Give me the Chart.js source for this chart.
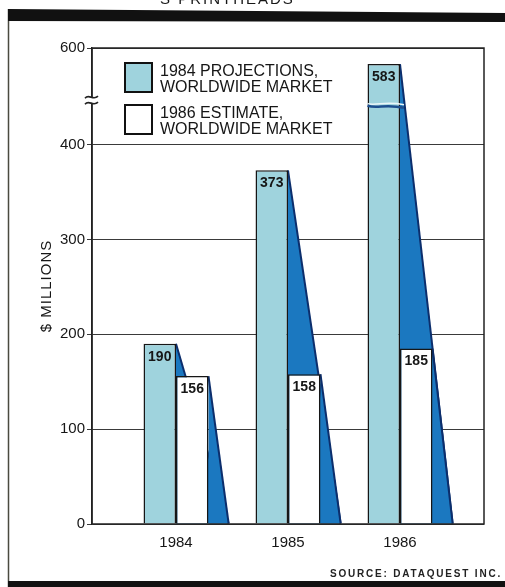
<!DOCTYPE html>
<html>
<head>
<meta charset="utf-8">
<script src="https://cdn.jsdelivr.net/npm/chart.js@4.4.1/dist/chart.umd.min.js"></script>
<style>
  html, body { margin: 0; padding: 0; background: #ffffff; }
  canvas { display: block; }
</style>
</head>
<body>
<canvas id="c" width="505" height="587"></canvas>
<script>
// ---------- data ----------
const years = [1984, 1985, 1986];
const projections1984 = [190, 373, 583];
const estimate1986 = [156, 158, 185];
const yTickValues = [0, 100, 200, 300, 400, 600];
const legendLines1984 = ['1984 PROJECTIONS,', 'WORLDWIDE MARKET'];
const legendLines1986 = ['1986 ESTIMATE,', 'WORLDWIDE MARKET'];
const yTitle = '$ MILLIONS';
const sourceText = 'SOURCE: DATAQUEST INC.';
const headerText = 'S PRINTHEADS';

// broken value axis: the range 440..538 is cut out
const BREAK_AT = 440;
const BREAK_GAP = 98;
const toDisplay = v => (v <= BREAK_AT ? v : v - BREAK_GAP);
const fromDisplay = d => (d <= BREAK_AT ? d : d + BREAK_GAP);

const BLUE = '#9fd3dd';
const SHADOW = '#1b78c0';
const SHADOW_EDGE = '#0c2e6c';
const INK = '#161616';
const FONT = "'Liberation Sans', Arial, sans-serif";
Chart.defaults.font.family = FONT;

const decor = {
  id: 'decor',
  beforeDatasetsDraw(chart) {
    const ctx = chart.ctx;
    const xs = chart.scales.x;
    const m0 = chart.getDatasetMeta(0).data;
    const m1 = chart.getDatasetMeta(1).data;
    ctx.save();
    years.forEach((yr, i) => {
      const vx = xs.getPixelForValue(yr + 0.47);
      [m0[i], m1[i]].forEach(b => {
        const xr = b.x + b.width / 2;
        ctx.beginPath();
        ctx.moveTo(xr, b.y);
        ctx.lineTo(vx, b.base);
        ctx.lineTo(xr, b.base);
        ctx.closePath();
        ctx.fillStyle = SHADOW;
        ctx.fill();
        ctx.beginPath();
        ctx.moveTo(xr, b.y);
        ctx.lineTo(vx, b.base);
        ctx.strokeStyle = SHADOW_EDGE;
        ctx.lineWidth = 2;
        ctx.stroke();
      });
    });
    ctx.restore();
  },
  afterDatasetsDraw(chart) {
    const ctx = chart.ctx;
    const ys = chart.scales.y;
    const area = chart.chartArea;
    const m0 = chart.getDatasetMeta(0).data;
    const m1 = chart.getDatasetMeta(1).data;
    ctx.save();

    // wave across bars that pass the break
    projections1984.forEach((v, i) => {
      if (v > BREAK_AT) {
        const b = m0[i];
        const l = b.x - b.width / 2, r = b.x + b.width / 2 + 4;
        const y0 = ys.getPixelForValue(BREAK_AT);
        ctx.beginPath();
        ctx.moveTo(l, y0 - 3);
        ctx.bezierCurveTo(l + 10, y0 - 1, l + 18, y0 - 6, r, y0 - 2);
        ctx.strokeStyle = '#e9f6f8';
        ctx.lineWidth = 1.5;
        ctx.stroke();
        ctx.beginPath();
        ctx.moveTo(l, y0 - 1);
        ctx.bezierCurveTo(l + 10, y0 + 2, l + 18, y0 - 3, r, y0 + 1);
        ctx.strokeStyle = '#1d4f8f';
        ctx.lineWidth = 2.5;
        ctx.stroke();
      }
    });

    // value labels
    ctx.font = 'bold 14px ' + FONT;
    ctx.fillStyle = INK;
    ctx.textAlign = 'center';
    ctx.textBaseline = 'middle';
    projections1984.forEach((v, i) => ctx.fillText(String(v), m0[i].x, m0[i].y + 13));
    estimate1986.forEach((v, i) => ctx.fillText(String(v), m1[i].x, m1[i].y + 13));

    // frame
    ctx.strokeStyle = '#222';
    ctx.lineWidth = 1.5;
    ctx.strokeRect(area.left, area.top, area.right - area.left, area.bottom - area.top);

    // axis break symbol
    const yb = ys.getPixelForValue(447);
    ctx.fillStyle = '#fff';
    ctx.fillRect(area.left - 2, yb - 3, 4, 6);
    ctx.strokeStyle = '#222';
    ctx.lineWidth = 1.6;
    [yb - 3, yb + 3].forEach(yy => {
      ctx.beginPath();
      ctx.moveTo(area.left - 7, yy + 1);
      ctx.bezierCurveTo(area.left - 3, yy - 4, area.left + 1, yy + 4, area.left + 6, yy - 1);
      ctx.stroke();
    });

    // legend
    const lx = area.left + 33;
    const entries = [
      { top: 63, fill: BLUE, lines: legendLines1984 },
      { top: 105, fill: '#ffffff', lines: legendLines1986 }
    ];
    ctx.textAlign = 'left';
    ctx.textBaseline = 'alphabetic';
    ctx.font = '16px ' + FONT;
    entries.forEach((e, k) => {
      ctx.fillStyle = e.fill;
      ctx.fillRect(lx, e.top, 27, 29);
      ctx.strokeStyle = '#111';
      ctx.lineWidth = 2;
      ctx.strokeRect(lx, e.top, 27, 29);
      ctx.fillStyle = INK;
      ctx.fillText(e.lines[0], lx + 35, e.top + 13);
      ctx.fillText(e.lines[1], lx + 35, e.top + 29);
    });

    // y title
    ctx.save();
    ctx.translate(47, (area.top + area.bottom) / 2 + 0);
    ctx.translate(0, 0);
    ctx.rotate(-Math.PI / 2);
    ctx.font = '15px ' + FONT;
    ctx.letterSpacing = '1px';
    ctx.textAlign = 'center';
    ctx.textBaseline = 'middle';
    ctx.fillStyle = INK;
    ctx.fillText(yTitle, 0, 0);
    ctx.restore();

    ctx.restore();
  },
  afterDraw(chart) {
    const ctx = chart.ctx;
    const W = chart.width, H = chart.height;
    ctx.save();
    // left rule
    ctx.strokeStyle = '#4a4a40';
    ctx.lineWidth = 1.5;
    ctx.beginPath();
    ctx.moveTo(8.5, 9);
    ctx.lineTo(8.5, H);
    ctx.stroke();
    // top band
    ctx.fillStyle = '#111';
    ctx.beginPath();
    ctx.moveTo(8, 9);
    ctx.lineTo(W, 13);
    ctx.lineTo(W, 22);
    ctx.lineTo(8, 21);
    ctx.closePath();
    ctx.fill();
    // bottom band
    ctx.fillRect(8, 581, W - 8, H - 581);
    // cut-off header text
    ctx.font = '15px ' + FONT;
    ctx.letterSpacing = '2px';
    ctx.textAlign = 'left';
    ctx.textBaseline = 'alphabetic';
    ctx.fillStyle = INK;
    ctx.fillText(headerText, 160, 4);
    // source
    ctx.font = 'bold 10px ' + FONT;
    ctx.letterSpacing = '1.8px';
    ctx.textAlign = 'right';
    ctx.textBaseline = 'middle';
    ctx.fillStyle = '#222';
    ctx.fillText(sourceText, 502, 574.5);
    ctx.restore();
  }
};

new Chart(document.getElementById('c'), {
  type: 'bar',
  data: {
    datasets: [
      {
        label: legendLines1984.join(' '),
        data: years.map((yr, i) => ({ x: yr, y: toDisplay(projections1984[i]) })),
        backgroundColor: BLUE,
        borderColor: INK,
        borderWidth: { top: 1.5, left: 1.5, right: 1.5, bottom: 0 },
        borderSkipped: false,
        categoryPercentage: 0.58,
        barPercentage: 1.0
      },
      {
        label: legendLines1986.join(' '),
        data: years.map((yr, i) => ({ x: yr, y: toDisplay(estimate1986[i]) })),
        backgroundColor: '#ffffff',
        borderColor: INK,
        borderWidth: { top: 1.5, left: 1.5, right: 1.5, bottom: 0 },
        borderSkipped: false,
        categoryPercentage: 0.58,
        barPercentage: 1.0
      }
    ]
  },
  options: {
    responsive: false,
    animation: false,
    devicePixelRatio: 1,
    layout: { padding: { top: 48, right: 21, bottom: 0, left: 0 } },
    plugins: { legend: { display: false }, tooltip: { enabled: false } },
    scales: {
      x: {
        type: 'linear',
        min: 1983.25,
        max: 1986.75,
        offset: false,
        grid: { display: false, drawTicks: false },
        border: { display: false },
        afterBuildTicks: s => { s.ticks = years.map(v => ({ value: v })); },
        afterFit: s => { s.height = 63; },
        ticks: {
          padding: 10,
          color: INK,
          font: { size: 15 },
          callback: v => String(v)
        }
      },
      y: {
        min: 0,
        max: toDisplay(600),
        afterBuildTicks: s => { s.ticks = yTickValues.map(v => ({ value: toDisplay(v) })); },
        afterFit: s => { s.width = 92; },
        grid: { color: '#3a3a3a', lineWidth: 1, tickLength: 5, drawTicks: true },
        border: { display: true, color: '#222', width: 1.5 },
        ticks: {
          padding: 2,
          color: INK,
          font: { size: 15 },
          callback: v => String(fromDisplay(v))
        }
      }
    }
  },
  plugins: [decor]
});
</script>
</body>
</html>
